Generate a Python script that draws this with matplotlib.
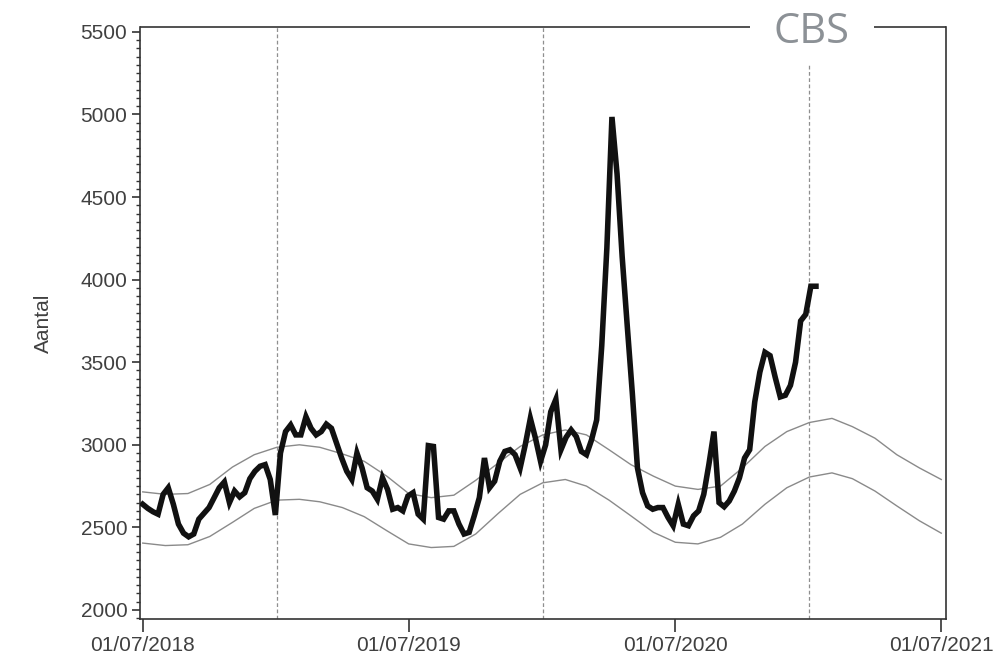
import matplotlib
matplotlib.use("Agg")
import matplotlib.pyplot as plt
import matplotlib.dates as mdates
from matplotlib.ticker import MultipleLocator
import numpy as np
import pandas as pd

plt.rcParams['font.family'] = ['Liberation Sans', 'DejaVu Sans']

# weekly death counts, starting 01/07/2018
week_start = '2018-07-01'
deaths = [
    2640, 2615, 2595, 2580, 2700, 2740, 2640, 2520, 2465, 2443,
    2460, 2550, 2585, 2620, 2680, 2740, 2775, 2650, 2720, 2685,
    2710, 2795, 2840, 2870, 2880, 2790, 2575, 2950, 3080, 3120,
    3060, 3060, 3170, 3100, 3060, 3080, 3125, 3100, 3010, 2920,
    2840, 2790, 2950, 2860, 2740, 2720, 2670, 2800, 2730, 2610,
    2620, 2600, 2690, 2710, 2580, 2550, 2995, 2990, 2560, 2550,
    2600, 2600, 2520, 2460, 2470, 2570, 2680, 2920, 2740, 2780,
    2900, 2960, 2970, 2940, 2860, 3000, 3160, 3040, 2900, 3000,
    3200, 3275, 2970, 3045, 3090, 3050, 2960, 2940, 3030, 3150,
    3600, 4190, 4985, 4640, 4140, 3720, 3310, 2860, 2710, 2630,
    2610, 2620, 2620, 2560, 2510, 2640, 2520, 2510, 2570, 2600,
    2700, 2880, 3080, 2650, 2625, 2660, 2720, 2800, 2920, 2970,
    3260, 3440, 3560, 3540, 3410, 3290, 3300, 3360, 3500, 3750,
    3790, 3960, 3960,
]

# expected range (monthly), 01/07/2018 - 01/07/2021
band_start = '2018-07-01'
band_upper = [
    2715, 2700, 2705, 2760, 2865, 2940, 2985, 3000, 2985, 2945, 2900, 2810,
    2705, 2680, 2695, 2785, 2890, 2990, 3060, 3090, 3060, 2970, 2880, 2810,
    2750, 2730, 2750, 2860, 2990, 3080, 3135, 3160, 3110, 3040, 2940, 2860,
    2790,
]
band_lower = [
    2405, 2390, 2395, 2445, 2530, 2615, 2665, 2670, 2655, 2620, 2565, 2480,
    2400, 2378, 2385, 2460, 2585, 2700, 2770, 2790, 2750, 2665, 2570, 2470,
    2410, 2400, 2440, 2520, 2640, 2740, 2805, 2830, 2795, 2720, 2630, 2540,
    2465,
]

year_marks = ['2019-01-01', '2020-01-01', '2021-01-01']
x_ticks = ['2018-07-01', '2019-07-01', '2020-07-01', '2021-07-01']
y_ticks = [2000, 2500, 3000, 3500, 4000, 4500, 5000, 5500]

weeks = pd.date_range(week_start, periods=len(deaths), freq='7D')
months = pd.date_range(band_start, periods=len(band_upper), freq='MS')

fig = plt.figure(figsize=(10.06, 6.57), dpi=100)
ax = fig.add_axes([0.139, 0.058, 0.801, 0.901])

txt_col = '#404040'
spine_col = '#333333'

# expected band
ax.plot(months, band_upper, color='#8a8a8a', lw=1.0, zorder=2)
ax.plot(months, band_lower, color='#8a8a8a', lw=1.0, zorder=2)

# year boundaries (last one stops under the logo)
for i, d in enumerate(year_marks):
    top = 0.936 if i == len(year_marks) - 1 else 1.0
    ax.axvline(pd.Timestamp(d), ymin=0, ymax=top, color='#8f8f8f',
               lw=0.9, ls=(0, (3, 2)), zorder=1)

# deaths
ax.plot(weeks, deaths, color='#111111', lw=4.0, solid_joinstyle='miter', zorder=3)

ax.set_xlim(pd.Timestamp('2018-06-27'), pd.Timestamp('2021-07-07'))
ax.set_ylim(1946, 5530)

ax.set_xticks([pd.Timestamp(t) for t in x_ticks])
ax.xaxis.set_major_formatter(mdates.DateFormatter('%d/%m/%Y'))
ax.set_yticks(y_ticks)
ax.yaxis.set_minor_locator(MultipleLocator(50))

ax.tick_params(axis='x', which='major', direction='out', length=9, width=1.2,
               colors=spine_col, labelcolor=txt_col, labelsize=15, pad=3)
ax.tick_params(axis='y', which='major', direction='out', length=6, width=1.2,
               colors=spine_col, labelcolor=txt_col, labelsize=15, pad=3)
ax.tick_params(axis='y', which='minor', direction='out', length=3, width=1.0,
               colors=spine_col)

ax.set_ylabel('Aantal', fontsize=15, color=txt_col, labelpad=20)

for s in ['left', 'right', 'bottom']:
    ax.spines[s].set_color(spine_col)
    ax.spines[s].set_linewidth(1.2)
ax.spines['top'].set_visible(False)

# top border broken by the logo
ax.plot([0, 0.757], [1, 1], transform=ax.transAxes, color=spine_col, lw=1.2,
        clip_on=False, solid_capstyle='butt')
ax.plot([0.911, 1], [1, 1], transform=ax.transAxes, color=spine_col, lw=1.2,
        clip_on=False, solid_capstyle='butt')
ax.text(0.833, 0.973, 'CBS', transform=ax.transAxes, ha='center', va='baseline',
        fontsize=30, color='#8c9196', family=['Open Sans', 'DejaVu Sans'])

fig.savefig('out.png', dpi=100)
plt.close(fig)
